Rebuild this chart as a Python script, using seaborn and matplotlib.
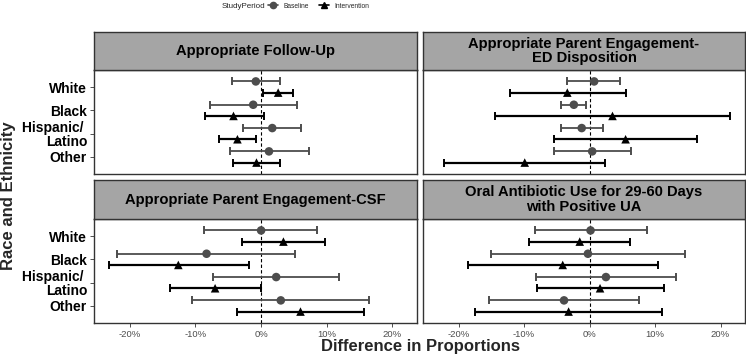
import pandas as pd
import numpy as np
import matplotlib.pyplot as plt
from matplotlib.lines import Line2D
import seaborn as sns

# outcomes (facet titles) and race groups
outcomes = ['Appropriate Follow-Up',
            'Appropriate Parent Engagement-\nED Disposition',
            'Appropriate Parent Engagement-CSF',
            'Oral Antibiotic Use for 29-60 Days\nwith Positive UA']
races = ['White', 'Black', 'Hispanic/\u00a0\nLatino', 'Other']
periods = ['Baseline', 'Intervention']

# differences in proportions (%), order: White, Black, Hispanic/Latino, Other
fu_base = [-0.8, -1.2, 1.7, 1.2]
fu_base_lo = [-4.5, -7.8, -2.7, -4.8]
fu_base_hi = [2.9, 5.4, 6.1, 7.3]
fu_int = [2.6, -4.2, -3.6, -0.7]
fu_int_lo = [0.25, -8.6, -6.4, -4.2]
fu_int_hi = [4.8, 0.4, -0.8, 2.9]

ed_base = [0.7, -2.4, -1.2, 0.4]
ed_base_lo = [-3.4, -4.4, -4.4, -5.5]
ed_base_hi = [4.6, -0.5, 2.0, 6.4]
ed_int = [-3.4, 3.5, 5.5, -9.9]
ed_int_lo = [-12.2, -14.5, -5.5, -22.3]
ed_int_hi = [5.6, 21.5, 16.4, 2.4]

csf_base = [0.0, -8.3, 2.3, 3.0]
csf_base_lo = [-8.7, -21.9, -7.3, -10.5]
csf_base_hi = [8.5, 5.2, 11.9, 16.5]
csf_int = [3.4, -12.6, -7.0, 6.0]
csf_int_lo = [-2.9, -23.2, -13.9, -3.7]
csf_int_hi = [9.7, -1.9, 0.0, 15.7]

abx_base = [0.15, -0.25, 2.5, -3.9]
abx_base_lo = [-8.4, -15.1, -8.2, -15.3]
abx_base_hi = [8.8, 14.6, 13.2, 7.5]
abx_int = [-1.5, -4.1, 1.6, -3.2]
abx_int_lo = [-9.2, -18.6, -8.1, -17.5]
abx_int_hi = [6.1, 10.4, 11.3, 11.1]

series = [
    (fu_base, fu_base_lo, fu_base_hi, fu_int, fu_int_lo, fu_int_hi),
    (ed_base, ed_base_lo, ed_base_hi, ed_int, ed_int_lo, ed_int_hi),
    (csf_base, csf_base_lo, csf_base_hi, csf_int, csf_int_lo, csf_int_hi),
    (abx_base, abx_base_lo, abx_base_hi, abx_int, abx_int_lo, abx_int_hi),
]

rows = []
for outcome, s in zip(outcomes, series):
    for p, (est, lo, hi) in zip(periods, [s[0:3], s[3:6]]):
        for i, r in enumerate(races):
            rows.append(dict(Outcome=outcome, Race=r, StudyPeriod=p,
                             est=est[i], lo=lo[i], hi=hi[i]))
df = pd.DataFrame(rows)

sns.set_theme(style='white')
plt.rcParams['font.family'] = ['Liberation Sans', 'DejaVu Sans']

colors = {'Baseline': '#4d4d4d', 'Intervention': '#000000'}
markers = {'Baseline': 'o', 'Intervention': '^'}
dodge = {'Baseline': -0.24, 'Intervention': 0.24}

W, H = 746, 357
fig = plt.figure(figsize=(W / 100, H / 100), dpi=100)

# panel boxes in pixels: (x0, x1, y_top, y_bottom)
panels = [(94, 417, 70, 174), (423, 745, 70, 174),
          (94, 417, 219, 323), (423, 745, 219, 323)]
strips = [(32, 70), (32, 70), (180, 219), (180, 219)]

xmin = df['lo'].min()
xmax = df['hi'].max()
pad = 0.05 * (xmax - xmin)

for k, outcome in enumerate(outcomes):
    x0, x1, yt, yb = panels[k]
    ax = fig.add_axes([x0 / W, 1 - yb / H, (x1 - x0) / W, (yb - yt) / H])
    sub = df[df['Outcome'] == outcome].copy()
    sub['y'] = sub['Race'].map({r: i for i, r in enumerate(races)}) + sub['StudyPeriod'].map(dodge)
    ax.axvline(0, color='black', ls=(0, (3, 2)), lw=0.8, zorder=1)
    for p in periods:
        sp = sub[sub['StudyPeriod'] == p]
        ax.errorbar(sp['est'], sp['y'], xerr=[sp['est'] - sp['lo'], sp['hi'] - sp['est']],
                    fmt='none', ecolor=colors[p], elinewidth=1.6 if p == 'Intervention' else 1.3,
                    capsize=3.2, capthick=1.4, zorder=2)
    sns.scatterplot(data=sub, x='est', y='y', hue='StudyPeriod', style='StudyPeriod',
                    palette=colors, markers=markers, s=38, edgecolor='none',
                    legend=False, ax=ax, zorder=3)
    ax.set_xlim(xmin - pad, xmax + pad)
    ax.set_ylim(len(races) - 1 + 0.73, -0.73)
    ax.set_xlabel('')
    ax.set_ylabel('')
    for sp_ in ax.spines.values():
        sp_.set_color('#333333')
        sp_.set_linewidth(1.0)
    if k >= 2:
        ticks = [-20, -10, 0, 10, 20]
        ax.set_xticks(ticks)
        ax.set_xticklabels([f'{t}%' for t in ticks], fontsize=6.8, color='#4d4d4d')
        ax.tick_params(axis='x', length=3, width=0.6, color='#333333', pad=2, bottom=True)
    else:
        ax.set_xticks([])
    if k % 2 == 0:
        ax.set_yticks(range(len(races)))
        ax.set_yticklabels(races, fontsize=10, fontweight='bold', color='black',
                           linespacing=0.95)
        ax.tick_params(axis='y', length=3, width=0.6, color='#333333', pad=2, left=True)
    else:
        ax.set_yticks([])

    s0, s1 = strips[k]
    sax = fig.add_axes([x0 / W, 1 - s1 / H, (x1 - x0) / W, (s1 - s0) / H])
    sax.set_facecolor('#a5a5a5')
    sax.set_xticks([])
    sax.set_yticks([])
    for sp_ in sax.spines.values():
        sp_.set_color('#333333')
        sp_.set_linewidth(1.0)
    sax.text(0.5, 0.5, outcome, ha='center', va='center', fontsize=10.6,
             fontweight='bold', color='black', linespacing=1.05,
             transform=sax.transAxes)

fig.text(420 / W, 1 - 346 / H, 'Difference in Proportions', ha='center', va='center',
         fontsize=12, fontweight='bold')
fig.text(9 / W, 1 - 196 / H, 'Race and Ethnicity', ha='center', va='center',
         rotation=90, fontsize=12, fontweight='bold')

# legend
fig.text(222 / W, 1 - 6 / H, 'StudyPeriod', ha='left', va='center', fontsize=5.8)
handles = [Line2D([0], [0], color=colors[p], marker=markers[p], markersize=4.5, lw=1.2)
           for p in periods]
fig.legend(handles, periods, loc='center left', bbox_to_anchor=(268 / W, 1 - 6 / H),
           ncol=2, frameon=False, fontsize=4.8, handlelength=1.5, handletextpad=0.8,
           columnspacing=1.5, borderaxespad=0, borderpad=0)

fig.savefig('out.png', dpi=100)
